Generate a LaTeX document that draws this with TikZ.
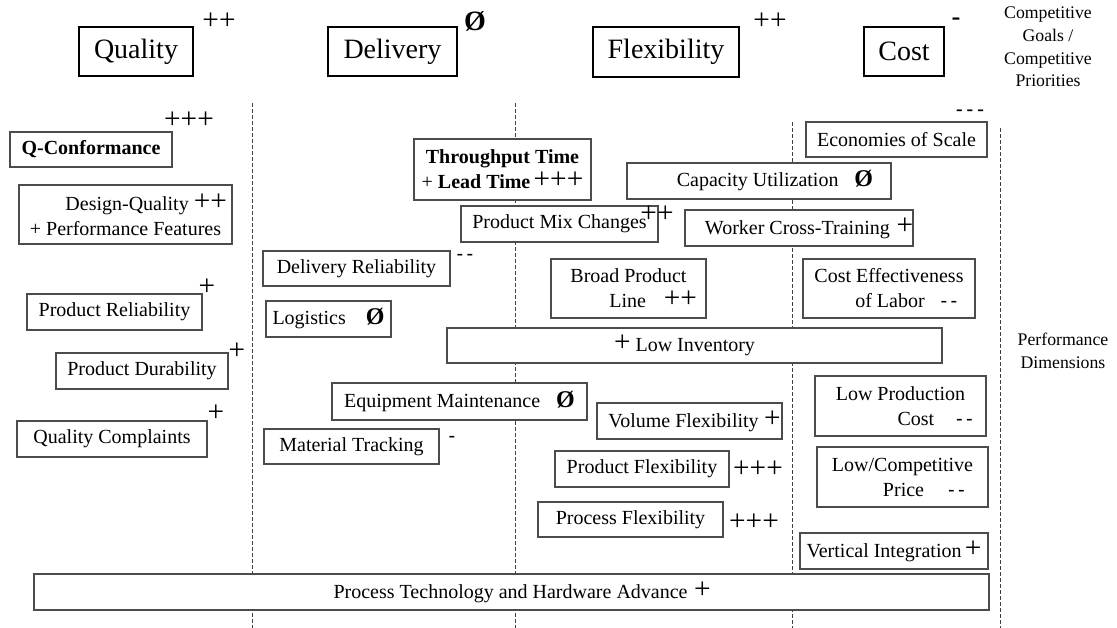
\documentclass[tikz,border=0pt]{standalone}
\usepackage{fontspec}
\setmainfont{Liberation Serif}
\newfontfamily\sansfam{Liberation Sans}

% type sizes (1px = 0.75pt)
\newcommand\bodyfont{\fontsize{15}{18.75}\selectfont}
\newcommand\headfont{\fontsize{21}{25}\selectfont}
\newcommand\sidefont{\fontsize{13.3}{16.9}\selectfont}
% rating symbols
\newcommand\bplus{{\fontsize{22}{22}\selectfont +}}
\newcommand\zeroeff{{\fontsize{18}{18}\selectfont\bfseries Ø}}
\newcommand\bigzero{{\fontsize{21}{21}\selectfont\bfseries Ø}}
\newcommand\dd{{\sansfam -\,-}}

\tikzset{
  % rectangle given by its corners x1/y1/x2/y2 (pixels, y downwards)
  corners/.style args={#1/#2/#3/#4}{
    minimum width={(#3-#1)*0.75pt}, minimum height={(#4-#2)*0.75pt},
    at={({(#1+#3)/2},{(#2+#4)/2})}},
  goalbox/.style={draw=black, line width=2.2pt, inner sep=0pt, font=\headfont},
  dimbox/.style={draw=black!70, line width=0.9pt, fill=white, inner sep=0pt,
    font=\bodyfont, align=center},
  rating/.style={inner sep=0pt, font=\bodyfont},
  sidetext/.style={inner sep=0pt, font=\sidefont, align=center},
  divider/.style={draw=black!75, line width=0.6pt, dash pattern=on 3pt off 1.5pt}
}

\begin{document}
\begin{tikzpicture}[x=0.75pt, y=-0.75pt]
  \useasboundingbox (0,0) rectangle (1117,628);
  \fill[white] (0,0) rectangle (1117,628);

  % column dividers
  \coordinate (d1t) at (252,103); \coordinate (d1b) at (252,628);
  \coordinate (d2t) at (515,103); \coordinate (d2b) at (515,628);
  \coordinate (d3t) at (792,122); \coordinate (d3b) at (792,628);
  \coordinate (d4t) at (1000,128); \coordinate (d4b) at (1000,628);
  \draw[divider] (d1t) -- (d1b);
  \draw[divider] (d2t) -- (d2b);
  \draw[divider] (d3t) -- (d3b);
  \draw[divider] (d4t) -- (d4b);

  % competitive goals
  \node[goalbox, corners=79/27/193/76] (quality) {Quality};
  \node[goalbox, corners=328/27/457/76] (delivery) {Delivery};
  \node[goalbox, corners=593/27/739/77] (flexibility) {Flexibility};
  \node[goalbox, corners=864/27/944/76] (cost) {Cost};
  \node[rating] (qgoal) at (219,21) {\bplus\bplus};
  \node[rating] (dgoal) at (475,21) {\bigzero};
  \node[rating] (fgoal) at (770,21) {\bplus\bplus};
  \node[rating, font=\fontsize{21}{21}\sansfam] (cgoal) at (956,22) {-};

  \node[sidetext] (goals) at (1048,47) {Competitive\\Goals /\\Competitive\\Priorities};
  \node[sidetext] (dims) at (1063,351) {Performance\\Dimensions};

  % quality dimensions
  \node[dimbox, font=\bodyfont\bfseries, corners=10/132/172/167] (qconf) {Q-Conformance};
  \node[rating] (qconfr) at (189,120) {\bplus\bplus\bplus};
  \node[dimbox, corners=19/185/232/244] (design)
    {\hspace*{31pt}Design-Quality \bplus\bplus\\+ Performance Features};
  \node[dimbox, corners=27/294/202/330] (prel) {Product Reliability};
  \node[rating] (prelr) at (207,287) {\bplus};
  \node[dimbox, corners=56/353/228/389] (pdur) {Product Durability};
  \node[rating] (pdurr) at (237,351) {\bplus};
  \node[dimbox, corners=17/421/207/457] (qcomp) {Quality Complaints};
  \node[rating] (qcompr) at (216,413) {\bplus};

  % delivery dimensions
  \node[dimbox, corners=263/251/450/286] (delrel) {Delivery Reliability};
  \node[rating] (delrelr) at (465,257) {\dd};
  \node[dimbox, corners=266/301/391/337] (logi) {Logistics\hspace{15pt}\zeroeff};
  \node[dimbox, corners=332/383/587/420] (equip) {Equipment Maintenance\hspace{12pt}\zeroeff};
  \node[dimbox, corners=264/429/439/464] (mattr) {Material Tracking};
  \node[rating] (mattrr) at (452,439) {\sansfam -};
  \node[dimbox, corners=414/139/591/200] (thru)
    {\textbf{Throughput Time}\\+ \textbf{Lead Time}\,\bplus\bplus\bplus};

  % flexibility dimensions
  \node[dimbox, corners=627/163/891/199] (capu)
    {\hspace*{24pt}Capacity Utilization\hspace{12pt}\zeroeff};
  \node[dimbox, corners=461/206/658/242] (pmix) {Product Mix Changes};
  \node[rating] (pmixr) at (657,214) {\bplus\bplus};
  \node[dimbox, corners=686/210/912/246] (wct)
    {\hspace*{15pt}Worker Cross-Training\hspace{5pt}\bplus};
  \node[dimbox, corners=551/259/706/318] (broad)
    {Broad Product\\\hspace*{37pt}Line\hspace{13.5pt}\bplus\bplus};
  \node[dimbox, corners=447/328/942/363] (lowinv) {\bplus\ Low Inventory\hspace*{15pt}};
  \node[dimbox, corners=597/403/782/439] (volflex)
    {\hspace*{7.5pt}Volume Flexibility\hspace{4pt}\bplus};
  \node[dimbox, corners=555/451/729/487] (prodflex) {Product Flexibility};
  \node[rating] (prodflexr) at (758,469) {\bplus\bplus\bplus};
  \node[dimbox, corners=538/502/723/537] (procflex) {Process Flexibility};
  \node[rating] (procflexr) at (754,522) {\bplus\bplus\bplus};

  % cost dimensions
  \node[dimbox, corners=806/122/987/157] (econ) {Economies of Scale};
  \node[rating, font=\fontsize{16}{16}\sansfam] (econr) at (970,113) {-\,-\,-};
  \node[dimbox, corners=803/259/975/318] (costeff)
    {Cost Effectiveness\\\hspace*{26pt}of Labor\hspace{12pt}\dd};
  \node[dimbox, corners=815/376/986/436] (lowprod)
    {Low Production\\\hspace*{52pt}Cost\hspace{16.5pt}\dd};
  \node[dimbox, corners=817/447/988/507] (lowprice)
    {Low/Competitive\\\hspace*{32pt}Price\hspace{18pt}\dd};
  \node[dimbox, corners=800/533/988/569] (vint) {Vertical Integration\,\bplus};

  % spanning all goals
  \node[dimbox, corners=34/574/989/610] (ptech)
    {\hspace*{16pt}Process Technology and Hardware Advance\hspace{5pt}\bplus};
\end{tikzpicture}
\end{document}
